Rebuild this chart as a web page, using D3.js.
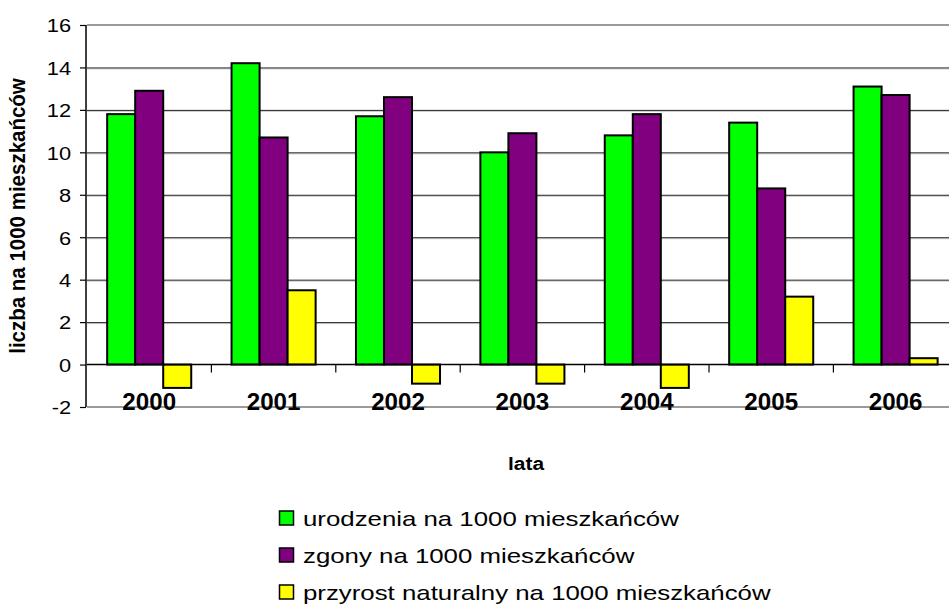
<!DOCTYPE html>
<meta charset="utf-8">
<title>urodzenia i zgony</title>
<style>
body { margin: 0; background: #fff; }
svg { display: block; }
text { font-family: "Liberation Sans", Arial, sans-serif; fill: #000; }
.axis path { display: none; }
.axis line { stroke: #000; }
</style>
<script src="https://d3js.org/d3.v7.min.js"></script>
<body>
<script>
var width = 949, height = 613;

var years = ["2000", "2001", "2002", "2003", "2004", "2005", "2006"];
var series = ["urodzenia", "zgony", "przyrost"];
var seriesNames = ["urodzenia na 1000 mieszkańców", "zgony na 1000 mieszkańców", "przyrost naturalny na 1000 mieszkańców"];
var colors = ["#00ff00", "#800080", "#ffff00"];
var urodzenia = [11.8, 14.2, 11.7, 10.0, 10.8, 11.4, 13.1];
var zgony = [12.9, 10.7, 12.6, 10.9, 11.8, 8.3, 12.7];
var przyrost = [-1.1, 3.5, -0.9, -0.9, -1.1, 3.2, 0.3];
var yTicks = [-2, 0, 2, 4, 6, 8, 10, 12, 14, 16];

var values = [urodzenia, zgony, przyrost];

var svg = d3.select("body").append("svg")
    .attr("width", width)
    .attr("height", height);

var y = d3.scaleLinear().domain([-2, 16]).range([407, 25]);
var x0 = d3.scaleBand().domain(years).range([87, 87 + 7 * 124.4]);
var x1 = d3.scaleBand().domain(series).range([0, x0.bandwidth()]).paddingOuter(0.72);
var right = 957;

// gridlines
var grid = svg.append("g");
yTicks.forEach(function(t) {
  if (t == 16 || t == -2) {
    grid.append("line").attr("x1", 87).attr("x2", right)
      .attr("y1", y(t)).attr("y2", y(t))
      .attr("stroke", "#9a9a9a").attr("stroke-width", 2);
  } else if (t != 0) {
    grid.append("line").attr("x1", 87).attr("x2", right)
      .attr("y1", y(t) + 1.5).attr("y2", y(t) + 1.5)
      .attr("stroke", "#c8c8c8").attr("stroke-width", 1);
    grid.append("line").attr("x1", 87).attr("x2", right)
      .attr("y1", y(t) + 0.5).attr("y2", y(t) + 0.5)
      .attr("stroke", "#222").attr("stroke-width", 1);
  }
});

// bars
var groups = svg.append("g").selectAll("g")
    .data(years)
  .enter().append("g")
    .attr("transform", function(d) { return "translate(" + x0(d) + ",0)"; });

groups.selectAll("rect")
    .data(function(d, i) { return series.map(function(s, j) { return {s: s, v: values[j][i], c: colors[j]}; }); })
  .enter().append("rect")
    .attr("x", function(d) { return x1(d.s); })
    .attr("width", x1.bandwidth())
    .attr("y", function(d) { return y(Math.max(0, d.v)); })
    .attr("height", function(d) { return Math.abs(y(d.v) - y(0)); })
    .attr("fill", function(d) { return d.c; })
    .attr("stroke", "#000")
    .attr("stroke-width", 2);

// zero line and category ticks
svg.append("line").attr("x1", 87).attr("x2", right)
  .attr("y1", y(0)).attr("y2", y(0))
  .attr("stroke", "#000").attr("stroke-width", 1.5);
years.forEach(function(d, i) {
  if (i == 0) return;
  svg.append("line").attr("x1", x0(d)).attr("x2", x0(d))
    .attr("y1", y(0)).attr("y2", y(0) + 8)
    .attr("stroke", "#000").attr("stroke-width", 1.2);
});

// y axis
var yAxis = svg.append("g")
    .attr("class", "axis")
    .attr("transform", "translate(86,0)")
    .call(d3.axisLeft(y).tickValues(yTicks).tickSize(6).tickPadding(0)
      .tickFormat(function(d) { return String(d); }));
yAxis.selectAll("line").attr("stroke-width", 1.2);
yAxis.selectAll("text")
    .style("font-size", "19px")
    .attr("x", -13)
    .attr("dy", "0.36em")
    .attr("transform", "scale(1.15,1)")
    .style("font-family", "'Liberation Sans', Arial, sans-serif");
svg.append("line").attr("x1", 86).attr("x2", 86)
  .attr("y1", y(16)).attr("y2", y(-2))
  .attr("stroke", "#000").attr("stroke-width", 1.5);

// category labels
svg.append("g").selectAll("text")
    .data(years)
  .enter().append("text")
    .attr("transform", function(d) { return "translate(" + (x0(d) + x0.bandwidth() / 2) + ",410) scale(1.05,1)"; })
    .attr("text-anchor", "middle")
    .style("font-size", "23px")
    .style("font-weight", "bold")
    .text(function(d) { return d; });

// axis titles
svg.append("text")
    .attr("transform", "translate(526,470) scale(1.1,1)")
    .attr("text-anchor", "middle")
    .style("font-size", "19px")
    .style("font-weight", "bold")
    .text("lata");

svg.append("text")
    .attr("transform", "translate(25,216) scale(1.1,1) rotate(-90)")
    .attr("text-anchor", "middle")
    .style("font-size", "20.5px")
    .style("font-weight", "bold")
    .text("liczba na 1000 mieszkańców");

// legend
var legend = svg.append("g").selectAll("g")
    .data(seriesNames)
  .enter().append("g")
    .attr("transform", function(d, i) { return "translate(279," + (518 + i * 37) + ")"; });
legend.append("rect")
    .attr("x", 0.5).attr("y", -7)
    .attr("width", 14).attr("height", 14)
    .attr("fill", function(d, i) { return colors[i]; })
    .attr("stroke", "#000").attr("stroke-width", 1.5);
legend.append("text")
    .attr("transform", "translate(24,7.5) scale(1.23,1)")
    .style("font-size", "21px")
    .text(function(d) { return d; });
</script>
